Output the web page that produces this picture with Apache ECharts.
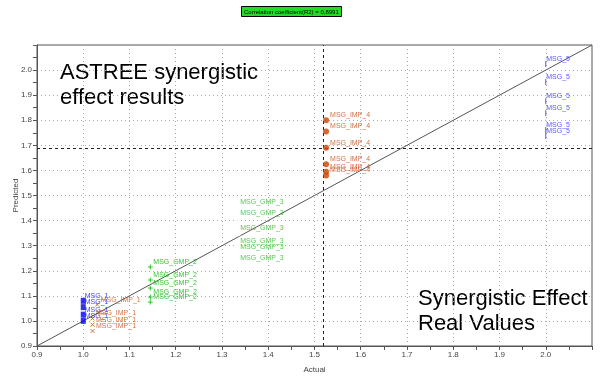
<!DOCTYPE html>
<html>
<head>
<meta charset="utf-8">
<script src="https://cdn.jsdelivr.net/npm/echarts@6/dist/echarts.min.js"></script>
<style>html,body{margin:0;padding:0;background:#fff}#c{width:601px;height:377px}</style>
</head>
<body>
<div id="c"></div>
<script>
// Data
const msg1X = [1.0, 1.0, 1.0, 1.0];
const msg1Y = [1.08, 1.055, 1.025, 1.0];
const imp1X = [1.03, 1.02, 1.02, 1.02];
const imp1Y = [1.065, 1.01, 0.985, 0.96];
const gmp2X = [1.145, 1.145, 1.145, 1.145, 1.145];
const gmp2Y = [1.215, 1.163, 1.131, 1.095, 1.075];
const gmp3X = [1.335, 1.335, 1.335, 1.335, 1.335, 1.335];
const gmp3Y = [1.454, 1.41, 1.35, 1.298, 1.275, 1.231];
const imp4X = [1.525, 1.525, 1.525, 1.525, 1.525, 1.525];
const imp4Y = [1.80, 1.755, 1.69, 1.625, 1.595, 1.58];
const msg5X = [2.0, 2.0, 2.0, 2.0, 2.0, 2.0];
const msg5Y = [2.024, 1.952, 1.876, 1.828, 1.761, 1.737];
const diagX = [0.9, 2.1];
const diagY = [0.9, 2.1];
const crossX = 1.525;
const crossY = 1.685;
const axisMin = 0.9, axisMax = 2.1, axisStep = 0.1;
const titleText = 'Correlation coefficient(R2) = 0,8991';
const noteTop = 'ASTREE synergistic\neffect results';
const noteBottom = 'Synergistic Effect\nReal Values';

const zip = (xs, ys) => xs.map((x, i) => [x, ys[i]]);
const FONT = 'Liberation Sans, Arial, sans-serif';

function pts(name, xs, ys, symbol, size, color, labelColor, extra, dx) {
  return Object.assign({
    name: name,
    type: 'scatter',
    data: zip(xs, ys),
    symbol: symbol,
    symbolSize: size,
    itemStyle: { color: color },
    label: {
      show: true,
      position: 'right',
      distance: 1,
      formatter: () => name,
      color: labelColor,
      fontSize: 7,
      fontFamily: FONT
    },
    labelLayout: { hideOverlap: false, dx: dx == null ? -1 : dx, dy: -5 },
    z: 5
  }, extra || {});
}

const chart = echarts.init(document.getElementById('c'), null, { renderer: 'canvas' });
const axisCommon = {
  type: 'value',
  min: axisMin,
  max: axisMax,
  interval: axisStep,
  axisLine: { show: true, onZero: false, lineStyle: { color: '#555', width: 1 } },
  axisTick: { show: true, length: 4, lineStyle: { color: '#555' } },
  minorTick: { show: true, splitNumber: 2, length: 4, lineStyle: { color: '#555' } },
  splitLine: { show: true, lineStyle: { color: '#aaa', type: [1, 3], width: 1 } },
  axisLabel: {
    fontSize: 8, color: '#444', fontFamily: FONT, margin: 5,
    formatter: v => (v > 2.05 ? '' : v.toFixed(1))
  },
  nameLocation: 'middle',
  nameMoveOverlap: false,
  nameTextStyle: { fontSize: 8, color: '#444', fontFamily: FONT }
};

chart.setOption({
  animation: false,
  backgroundColor: '#fff',
  title: {
    text: titleText,
    left: 241,
    top: 6,
    padding: [3, 3, 2, 3],
    backgroundColor: '#22dd22',
    borderColor: '#000',
    borderWidth: 1,
    textStyle: { fontSize: 6, fontWeight: 'normal', color: '#000', fontFamily: FONT }
  },
  grid: { left: 37, right: 9, top: 45, bottom: 31, show: true, borderColor: '#555', borderWidth: 1,
          containLabel: false, outerBoundsMode: 'none' },
  xAxis: Object.assign({}, axisCommon, { name: 'Actual', nameGap: 20 }),
  yAxis: Object.assign({}, axisCommon, { name: 'Predicted', nameGap: 17 }),
  graphic: [
    { type: 'text', left: 60, top: 60, style: { text: noteTop, fontSize: 22, lineHeight: 25, fill: '#000', fontFamily: FONT } },
    { type: 'text', left: 418, top: 286, style: { text: noteBottom, fontSize: 22, lineHeight: 25, fill: '#000', fontFamily: FONT } }
  ],
  series: [
    {
      type: 'line',
      data: zip(diagX, diagY),
      symbol: 'none',
      lineStyle: { color: '#555', width: 1 },
      silent: true,
      z: 2,
      markLine: {
        silent: true,
        symbol: 'none',
        label: { show: false },
        lineStyle: { color: '#222', type: [3, 3], width: 1 },
        data: [{ xAxis: crossX }, { yAxis: crossY }]
      }
    },
    pts('MSG_1', msg1X, msg1Y, 'rect', [5, 6], '#0000ee', '#0a0aff', null, -2),
    pts('MSG_IMP_1', imp1X, imp1Y, 'path://M0,0L10,10M10,0L0,10', 4, '#cc5010', '#cc5010',
        { itemStyle: { color: 'none', borderColor: '#cc5010', borderWidth: 1 } }, -2),
    pts('MSG_GMP_2', gmp2X, gmp2Y, 'path://M5,0L5,10M0,5L10,5', 5, '#00cc00', '#00b400',
        { itemStyle: { color: 'none', borderColor: '#00bb00', borderWidth: 1 } }, -3),
    pts('MSG_GMP_3', gmp3X, gmp3Y, 'emptyCircle', 4, '#33bb33', '#2cb82c',
        { itemStyle: { color: '#fff', borderColor: '#33bb33', borderWidth: 1 } }, -2),
    pts('MSG_IMP_4', imp4X, imp4Y, 'circle', 6, '#cc4400', '#c84c14', null, 0),
    pts('MSG_5', msg5X, msg5Y, 'rect', [1, 6], '#2a2aff', '#2a2aff', null, -1)
  ]
});
</script>
</body>
</html>
